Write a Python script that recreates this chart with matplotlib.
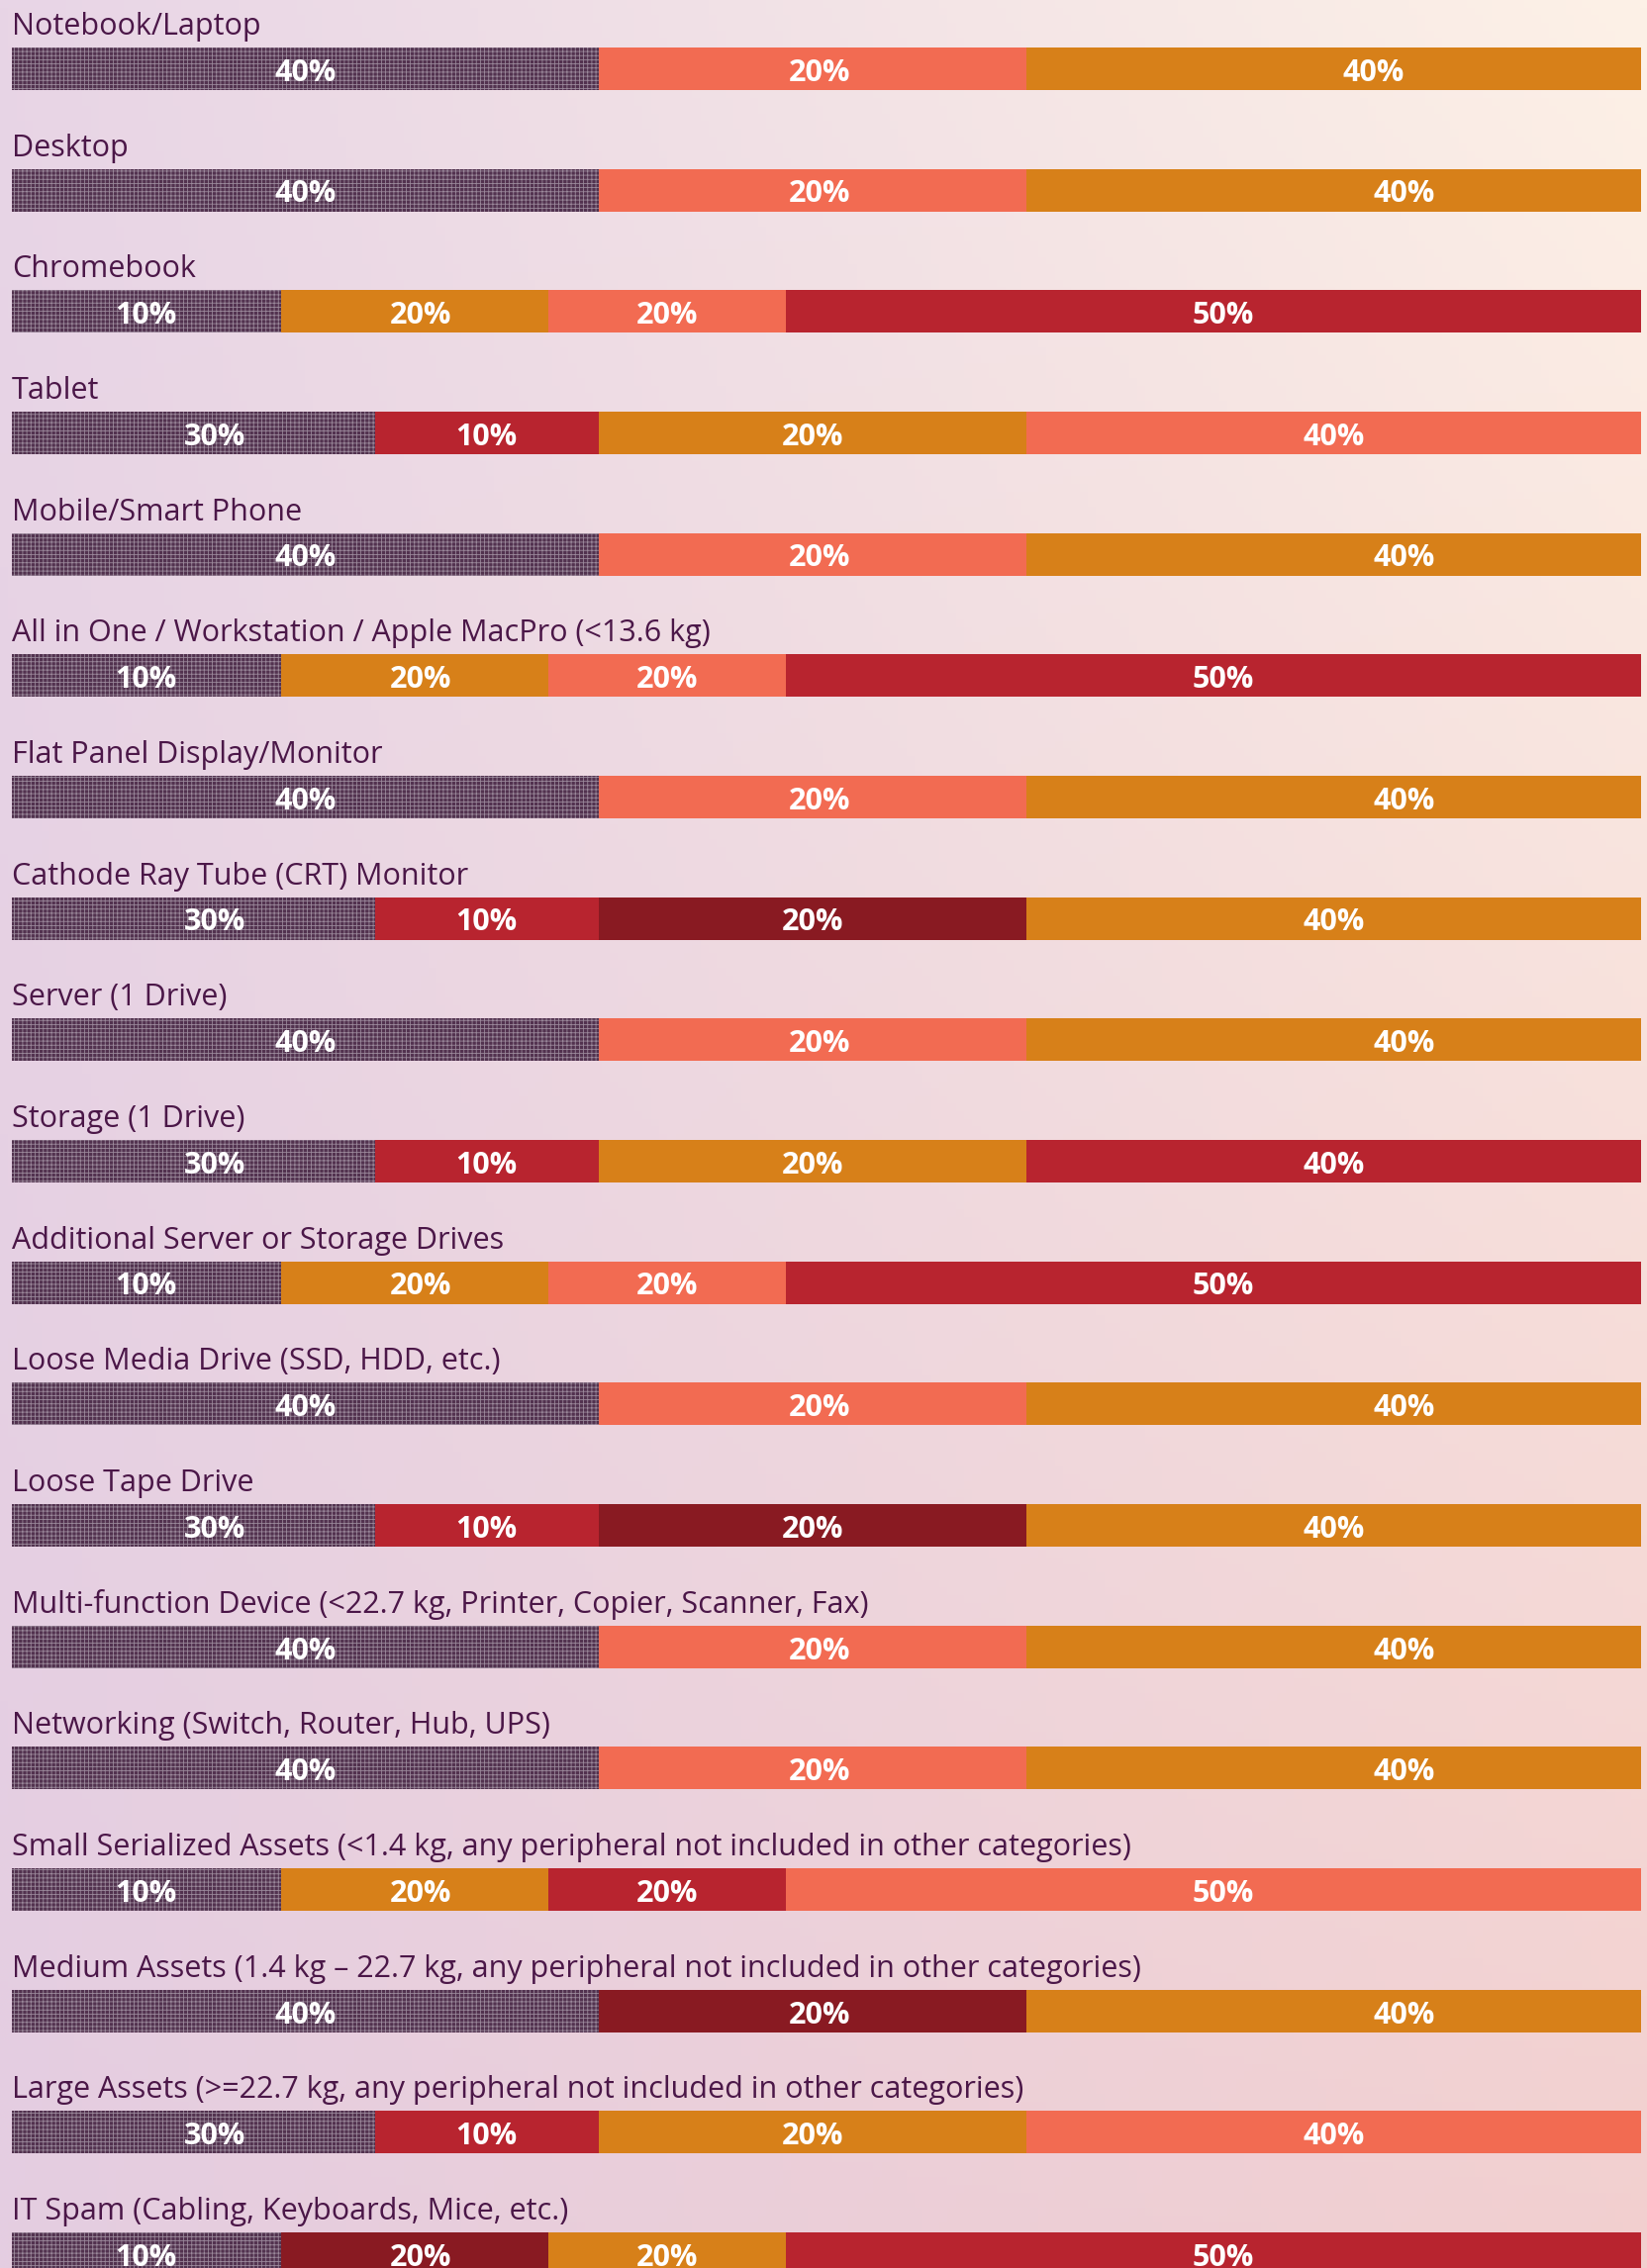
import matplotlib.pyplot as plt
import numpy as np

plt.rcParams['hatch.linewidth'] = 0.6

categories = [
    "Notebook/Laptop",
    "Desktop",
    "Chromebook",
    "Tablet",
    "Mobile/Smart Phone",
    "All in One / Workstation / Apple MacPro (<13.6 kg)",
    "Flat Panel Display/Monitor",
    "Cathode Ray Tube (CRT) Monitor",
    "Server (1 Drive)",
    "Storage (1 Drive)",
    "Additional Server or Storage Drives",
    "Loose Media Drive (SSD, HDD, etc.)",
    "Loose Tape Drive",
    "Multi-function Device (<22.7 kg, Printer, Copier, Scanner, Fax)",
    "Networking (Switch, Router, Hub, UPS)",
    "Small Serialized Assets (<1.4 kg, any peripheral not included in other categories)",
    "Medium Assets (1.4 kg \u2013 22.7 kg, any peripheral not included in other categories)",
    "Large Assets (>=22.7 kg, any peripheral not included in other categories)",
    "IT Spam (Cabling, Keyboards, Mice, etc.)",
]

# percentage shown in each segment
seg_pct = [
    [40, 20, 40],
    [40, 20, 40],
    [10, 20, 20, 50],
    [30, 10, 20, 40],
    [40, 20, 40],
    [10, 20, 20, 50],
    [40, 20, 40],
    [30, 10, 20, 40],
    [40, 20, 40],
    [30, 10, 20, 40],
    [10, 20, 20, 50],
    [40, 20, 40],
    [30, 10, 20, 40],
    [40, 20, 40],
    [40, 20, 40],
    [10, 20, 20, 50],
    [40, 20, 40],
    [30, 10, 20, 40],
    [10, 20, 20, 50],
]

# drawn width of each segment (share of bar length, as it appears)
w3 = [36.0, 26.3, 37.7]
w4a = [16.5, 16.4, 14.6, 52.5]
w4b = [22.3, 13.7, 26.3, 37.7]
seg_width = [w3, w3, w4a, w4b, w3, w4a, w3, w4b, w3, w4b,
             w4a, w3, w4b, w3, w3, w4a, w3, w4b, w4a]

seg_kind = [
    ["grid", "coral", "orange"],
    ["grid", "coral", "orange"],
    ["grid", "orange", "coral", "red"],
    ["grid", "red", "orange", "coral"],
    ["grid", "coral", "orange"],
    ["grid", "orange", "coral", "red"],
    ["grid", "coral", "orange"],
    ["grid", "red", "dark", "orange"],
    ["grid", "coral", "orange"],
    ["grid", "red", "orange", "red"],
    ["grid", "orange", "coral", "red"],
    ["grid", "coral", "orange"],
    ["grid", "red", "dark", "orange"],
    ["grid", "coral", "orange"],
    ["grid", "coral", "orange"],
    ["grid", "orange", "red", "coral"],
    ["grid", "dark", "orange"],
    ["grid", "red", "orange", "coral"],
    ["grid", "dark", "orange", "red"],
]

kleur = {"grid": "#52324f", "coral": "#f26b52", "orange": "#d78019",
         "red": "#b8242f", "dark": "#891a22"}

# labels are not exactly centred in the original (shift in % of bar)
verschuif = {(30, 0): 1.3, (40, 2): 4.3, (50, 3): 0.6, (20, 1): 0.4}

fig = plt.figure(figsize=(16.65, 22.92), dpi=100)

# background gradient
bg = fig.add_axes([0, 0, 1, 1], zorder=0)
tl = np.array([0xe8, 0xd5, 0xe6]) / 255
tr = np.array([0xfd, 0xf1, 0xe7]) / 255
bl = np.array([0xe4, 0xcd, 0xe1]) / 255
br = np.array([0xf2, 0xcf, 0xcf]) / 255
u = np.linspace(0, 1, 200)[None, :, None]
v = np.linspace(0, 1, 300)[:, None, None]
img = (1 - v) * ((1 - u) * tl + u * tr) + v * ((1 - u) * bl + u * br)
bg.imshow(img, aspect='auto', extent=[0, 1, 0, 1], origin='upper')
bg.axis('off')

H = 2292
step = 122.67
c0 = 69.5
ax = fig.add_axes([12 / 1665, 0, 1646 / 1665, 1], zorder=1)
ax.set_facecolor('none')
ax.set_xlim(0, 100)
ax.set_ylim((H - c0) / step, -c0 / step)
ax.axis('off')

bar_h = 43 / step
for i, naam in enumerate(categories):
    links = 0
    for j, (pct, w, k) in enumerate(zip(seg_pct[i], seg_width[i], seg_kind[i])):
        if k == "grid":
            ax.barh(i, w, left=links, height=bar_h, color=kleur[k],
                    edgecolor='#9a889a', hatch='++++', linewidth=0)
        else:
            ax.barh(i, w, left=links, height=bar_h, color=kleur[k], linewidth=0)
        dx = verschuif.get((pct, j), 0)
        if i == 0 and j == 2:
            dx = 2.4
        ax.text(links + w / 2 + dx, i + 0.035, f"{pct}%", ha='center', va='center',
                color='white', fontsize=22, fontweight='bold', family='Open Sans')
        links += w
    ax.text(0, i - 0.281, naam, ha='left', va='baseline', fontsize=22,
            color='#4b1748', family='Open Sans', clip_on=False)

fig.savefig('out.png', dpi=100)
